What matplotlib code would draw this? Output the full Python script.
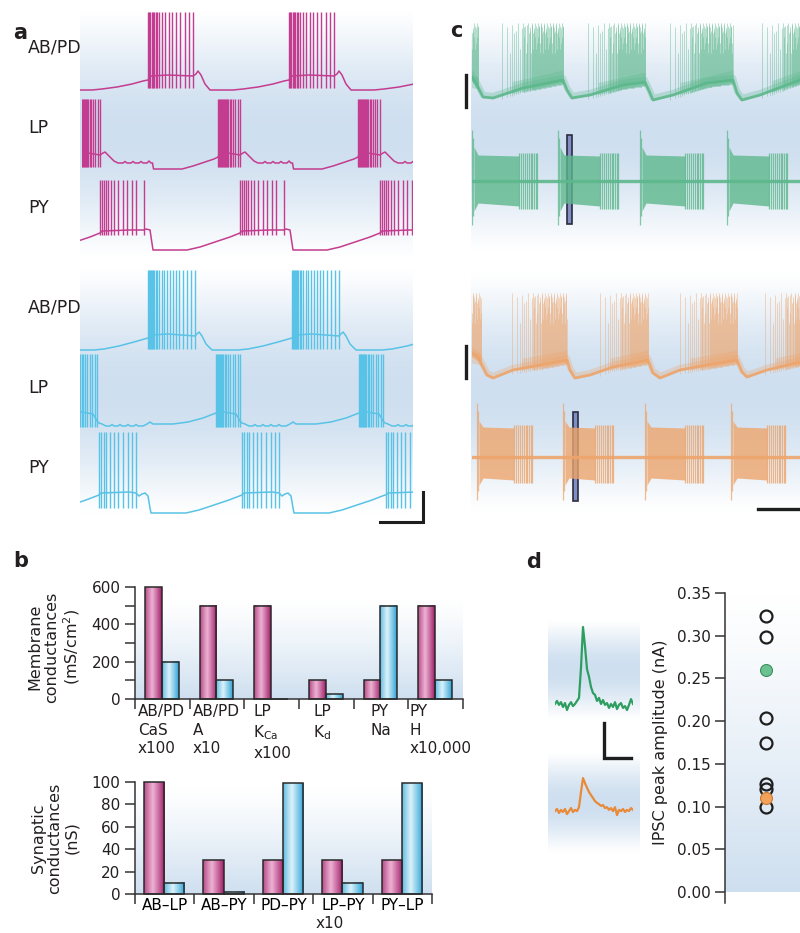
import numpy as np
import matplotlib.pyplot as plt
from matplotlib.patches import Rectangle
from matplotlib.transforms import blended_transform_factory as blend

plt.rcParams['font.family'] = ['DejaVu Sans']
plt.rcParams['text.color'] = '#231f20'

# ---------------- data ----------------
# panel a: model traces, t in s, v in mV; one cycle template repeated at each burst onset
abpd1_onsets = [-0.73, 0.68, 2.09]
abpd1_t = [0, 0.03, 0.2, 0.45, 0.48, 0.5, 0.53, 0.57, 0.62, 0.85, 0.95, 1.1, 1.25, 1.36, 1.41]
abpd1_v = [-50, -46, -45, -46, -44, -41, -45, -54, -60, -60, -59, -57, -54, -51, -50]
abpd1_spk = [0, .012, .024, .036, .048, .06, .075, .09, .11, .14, .17, .205, .24, .28, .32, .365, .41, .45]
abpd1_lo, abpd1_hi = -58, 18

lp1_onsets = [-0.04, 1.36, 2.76]
lp1_t = [0, 0.02, 0.1, 0.22, 0.25, 0.27, 0.31, 0.36, 0.40, 0.45, 0.47, 0.49, 0.53, 0.55, 0.57,
         0.61, 0.63, 0.65, 0.69, 0.71, 0.73, 0.745, 0.755, 1.04, 1.15, 1.27, 1.36, 1.40]
lp1_v = [-54, -50, -50, -52, -50, -49, -53, -58, -60, -60, -58.5, -60, -60, -58.5, -60,
         -60, -58.5, -60, -60, -58, -60, -60, -66, -66, -63, -59, -56, -54]
lp1_spk = [0, .01, .02, .03, .04, .05, .06, .07, .08, .09, .10, .115, .13, .15, .17, .195, .22]
lp1_lo, lp1_hi = -64, 4

py1_onsets = [-1.2, 0.2, 1.6, 3.0]
py1_t = [0, 0.02, 0.3, 0.44, 0.46, 0.50, 0.515, 0.53, 0.87, 1.0, 1.15, 1.3, 1.4]
py1_v = [-48, -46, -45, -45, -44, -45, -55, -65, -65, -62, -57, -52, -48]
py1_spk = [0, .02, .04, .06, .083, .11, .143, .183, .227, .273, .317, .36, .44]
py1_lo, py1_hi = -50, 5

abpd2_onsets = [-0.76, 0.68, 2.12]
abpd2_t = [0, 0.03, 0.2, 0.47, 0.49, 0.51, 0.54, 0.58, 0.64, 0.9, 1.0, 1.15, 1.3, 1.44]
abpd2_v = [-48, -45, -44, -46, -44, -42, -46, -54, -60, -60, -59, -56, -52, -48]
abpd2_spk = [0, .01, .02, .03, .04, .05, .06, .075, .09, .11, .135, .16, .19, .22, .25, .28,
             .31, .35, .39, .43, .47]
abpd2_lo, abpd2_hi = -59, 20

lp2_onsets = [-0.07, 1.36, 2.79]
lp2_t = [0, 0.02, 0.2, 0.24, 0.26, 0.29, 0.33, 0.37, 0.39, 0.41, 0.45, 0.47, 0.49, 0.53, 0.55,
         0.57, 0.61, 0.63, 0.65, 0.70, 0.74, 0.77, 0.80, 1.0, 1.15, 1.3, 1.43]
lp2_v = [-47, -45, -48, -55, -57, -58, -60, -60, -58.5, -60, -60, -58.5, -60, -60, -58.5,
         -60, -60, -58.5, -60, -60, -58, -56, -58, -58, -56, -52, -47]
lp2_spk = [0, .01, .02, .03, .04, .05, .06, .07, .085, .10, .12, .14, .165, .19, .215, .24]
lp2_lo, lp2_hi = -61, 12

py2_onsets = [-1.24, 0.19, 1.62, 3.06]
py2_t = [0, 0.02, 0.3, 0.37, 0.40, 0.43, 0.46, 0.49, 0.51, 0.52, 0.87, 1.0, 1.15, 1.3, 1.43]
py2_v = [-47, -45, -44, -45, -48, -46, -45, -48, -60, -65, -65, -62, -57, -52, -47]
py2_spk = [0, .023, .047, .073, .107, .147, .19, .24, .29, .33, .373]
py2_lo, py2_hi = -60, 16

SCALE_A_T, SCALE_A_V = 0.43, 30

# panel c: recordings, t in s, v in mV (intracellular) or arbitrary units (extracellular)
gi_t = [0, 0.05, 0.11, 0.21, 0.51, 0.91, 0.95, 1.00, 1.18, 1.51, 1.73, 1.78, 1.81, 2.01, 2.35,
        2.61, 2.65, 2.70, 2.88, 3.28]
gi_v = [-40, -48, -60, -61, -51, -43, -53, -61, -58, -48, -45, -56, -63, -58, -46,
        -43, -56, -63, -58, -43]
gi_starts = [-0.55, 0.30, 1.16, 1.98, 2.90]
gi_ends = [0.06, 0.91, 1.73, 2.61, 3.30]
gi_peak = 14

oi_t = [0, 0.06, 0.15, 0.21, 0.41, 0.68, 0.95, 0.98, 1.03, 1.18, 1.41, 1.76, 1.81, 1.88, 2.08,
        2.35, 2.65, 2.70, 2.75, 2.95, 3.28]
oi_v = [-36, -40, -58, -61, -53, -48, -43, -53, -61, -58, -50, -43, -56, -61, -53,
        -48, -43, -55, -60, -53, -45]
oi_starts = [-0.50, 0.40, 1.28, 2.08, 2.93]
oi_ends = [0.09, 0.95, 1.76, 2.65, 3.30]
oi_peak = 24

intra_offs = [0, 0.05, 0.08, 0.1, 0.12, 0.14, 0.16, 0.18, 0.2, 0.215, 0.23, 0.245, 0.26, 0.275,
              0.29, 0.30, 0.31, 0.32, 0.33, 0.34, 0.35, 0.36, 0.37, 0.38, 0.39, 0.40, 0.41,
              0.42, 0.43, 0.44, 0.45, 0.46, 0.47, 0.48, 0.49, 0.50, 0.51, 0.52, 0.53, 0.54,
              0.55, 0.56, 0.57, 0.58, 0.59, 0.60, 0.61, 0.62]
intra_drops = [0, 4, 30, 2, 10, 8, 0, 26, 5, 14, 3, 20]

ge_starts = [0.0, 0.86, 1.68, 2.55]
ge_ends = [0.65, 1.46, 2.31, 3.15]
ge_up, ge_dn = [34, 26, 25], [-30, -22, -25]
ge_onset = (51, -44)

oe_starts = [0.05, 0.91, 1.73, 2.59]
oe_ends = [0.60, 1.41, 2.31, 3.13]
oe_up, oe_dn = [36, 30, 29], [-28, -21, -23]
oe_onset = (54, -43)

extra_sparse = [0, 0.015, 0.03, 0.05, 0.065, 0.08, 0.1, 0.12, 0.14, 0.16, 0.18]
window_green = (0.95, 0.05, -43, 46)
window_orange = (1.01, 0.045, -44, 45)
SCALE_C_T, SCALE_C_V = 0.42, 32

# panel b
mem_labels = ['AB/PD\nCaS\nx100', 'AB/PD\nA\nx10', 'LP\nK$_{\\mathregular{Ca}}$\nx100',
              'LP\nK$_{\\mathregular{d}}$', 'PY\nNa', 'PY\nH\nx10,000']
mem_model1 = [600, 500, 500, 100, 100, 500]
mem_model2 = [200, 100, 0, 25, 500, 100]
syn_labels = ['AB–LP', 'AB–PY', 'PD–PY', 'LP–PY', 'PY–LP']
syn_model1 = [100, 30, 30, 30, 30]
syn_model2 = [10, 2, 99, 10, 99]

# panel d
ipsc_green = [10, 20, 7, 16, 0, 13, -10, 7, 16, 3, 10, 20, 30, 130, 264, 200, 125, 100, 66, 46,
              40, 20, 30, 10, 23, 7, 13, -3, 10, 0, 16, -7, 7, 13, -3, 3, -10, 7, 26, 10]
ipsc_orange = [3, 10, -3, 7, 0, 10, -7, 3, 13, 0, 7, 3, 16, 66, 112, 95, 80, 66, 56, 46,
               36, 30, 26, 20, 23, 13, 16, 7, 13, 3, 16, -10, 7, 3, 10, 0, 7, 3, 13, 7]
IPSC_DT = 2  # ms per sample
SCALE_D_T, SCALE_D_V = 27, 115
amp_open = [0.323, 0.299, 0.204, 0.174, 0.127, 0.121, 0.0997]
amp_green = [0.260]
amp_orange = [0.1095]

# ---------------- styles ----------------
MAG = '#c43c8f'
CYA = '#58c3e6'
GRN = '#5db88c'
ORG = '#eda56c'
DGRN = '#2e9e60'
DORG = '#e98a38'
INK = '#1e1e1e'
BLUE = np.array([0.81, 0.875, 0.94])

W, H = 800, 933
fig = plt.figure(figsize=(8, 9.33), dpi=100)


def box(x0, y0, x1, y1):
    return [x0 / W, 1 - y1 / H, (x1 - x0) / W, (y1 - y0) / H]


def fx(x):
    return x / W


def fy(y):
    return 1 - y / H


def backdrop(x0, y0, x1, y1, mode):
    ax = fig.add_axes(box(x0, y0, x1, y1), zorder=0)
    s = np.linspace(0, 1, 200)
    w = np.sin(np.pi * s) ** 1.2 if mode == 'mid' else s ** 1.2
    img = 1 - w[:, None, None] * (1 - BLUE)[None, None, :]
    ax.imshow(img, aspect='auto', interpolation='bilinear')
    ax.axis('off')


def trace_ax(x0, x1, y_ref, v_ref, vmin, vmax, xs=0.01, ys=1.0):
    y0 = y_ref - (vmax - v_ref) / ys
    y1 = y_ref + (v_ref - vmin) / ys
    ax = fig.add_axes(box(x0, y0, x1, y1), zorder=2)
    ax.set_xlim(0, (x1 - x0) * xs)
    ax.set_ylim(vmin, vmax)
    ax.axis('off')
    return ax


def cycles(ax, onsets, t, v, spk, lo, hi, color):
    tt = np.concatenate([o + np.asarray(t) for o in onsets])
    ax.plot(tt, np.tile(v, len(onsets)), color=color, lw=1.1)
    st = np.concatenate([o + np.asarray(spk) for o in onsets])
    ax.vlines(st, lo, hi, color=color, lw=1.0)


def intra(ax, bt, bv, starts, ends, peak, color):
    bv = np.asarray(bv, float)
    ax.plot(bt, bv, color=color, lw=2.0, alpha=0.9, solid_joinstyle='round')
    ax.plot(bt, bv + 2, color=color, lw=4.5, alpha=0.3)
    offs = np.concatenate([intra_offs, np.asarray(intra_offs[8:]) + 0.005])
    drops = np.resize(intra_drops, len(offs))
    for s, e in zip(starts, ends):
        st = s + offs
        keep = st <= e
        st = st[keep]
        base = np.interp(st, bt, bv)
        tops = peak - drops[keep]
        ax.vlines(st, base - 4, np.maximum(tops, base + 8), color=color, lw=0.6, alpha=0.5)
        # dense small-spike fuzz on top of the baseline during the burst
        seg = [s + 0.1, e]
        bseg = np.interp(seg, bt, bv)
        ax.fill_between(seg, bseg - 2, bseg + 10, color=color, alpha=0.3, lw=0)


def extra(ax, starts, ends, up, dn, onset, color):
    ax.axhline(0, color=color, lw=2.4, alpha=0.9)
    for s, e in zip(starts, ends):
        ax.vlines([s, s + 0.012], [onset[1], onset[1] * 0.8], [onset[0], onset[0] * 0.85],
                  color=color, lw=0.9, alpha=0.75)
        ax.fill_between([s + 0.02, s + 0.06, e - 0.18], up, dn, color=color, alpha=0.8, lw=0)
        st = e - np.asarray(extra_sparse)
        ax.vlines(st, dn[2] - 3, up[2] + 3, color=color, lw=0.9, alpha=0.8)


# ---------------- panel a ----------------
backdrop(80, 10, 413, 258, 'mid')
backdrop(80, 268, 413, 515, 'mid')

cycles(trace_ax(80, 413, 90, -60, -75, 25), abpd1_onsets, abpd1_t, abpd1_v, abpd1_spk,
       abpd1_lo, abpd1_hi, MAG)
cycles(trace_ax(82, 413, 163, -60, -75, 15), lp1_onsets, lp1_t, lp1_v, lp1_spk,
       lp1_lo, lp1_hi, MAG)
cycles(trace_ax(80, 413, 250, -65, -75, 15), py1_onsets, py1_t, py1_v, py1_spk,
       py1_lo, py1_hi, MAG)
cycles(trace_ax(80, 413, 350, -60, -75, 25), abpd2_onsets, abpd2_t, abpd2_v, abpd2_spk,
       abpd2_lo, abpd2_hi, CYA)
cycles(trace_ax(80, 413, 426, -60, -75, 20), lp2_onsets, lp2_t, lp2_v, lp2_spk,
       lp2_lo, lp2_hi, CYA)
ax_py2 = trace_ax(80, 413, 513, -65, -80, 20)
cycles(ax_py2, py2_onsets, py2_t, py2_v, py2_spk, py2_lo, py2_hi, CYA)
sx, sy = 3.43, -74
ax_py2.plot([sx - SCALE_A_T, sx, sx], [sy, sy, sy + SCALE_A_V], color=INK, lw=2.2,
            clip_on=False, solid_joinstyle='miter')

for name, yb in [('AB/PD', 52), ('LP', 133), ('PY', 213), ('AB/PD', 312), ('LP', 393), ('PY', 473)]:
    fig.text(fx(28), fy(yb), name, fontsize=12.5, va='baseline')

# ---------------- panel c ----------------
backdrop(471, 15, 800, 252, 'mid')
backdrop(471, 272, 800, 512, 'mid')

ax_gi = trace_ax(472, 800, 97, -60, -80, 25)
intra(ax_gi, gi_t, gi_v, gi_starts, gi_ends, gi_peak, GRN)
ax_gi.plot([-0.06, -0.06], [-70, -70 + SCALE_C_V], color=INK, lw=2.4, clip_on=False)

ax_ge = trace_ax(472, 800, 181, 0, -55, 60)
t0, tw, v0, v1 = window_green
ax_ge.add_patch(Rectangle((t0, v0), tw, v1 - v0, fc='#7f8ec4', ec='#2c2c3c', lw=1.2, zorder=1))
extra(ax_ge, ge_starts, ge_ends, ge_up, ge_dn, ge_onset, GRN)

ax_oi = trace_ax(472, 800, 377, -60, -80, 30)
intra(ax_oi, oi_t, oi_v, oi_starts, oi_ends, oi_peak, ORG)
ax_oi.plot([-0.06, -0.06], [-61, -61 + SCALE_C_V], color=INK, lw=2.4, clip_on=False)

ax_oe = trace_ax(472, 800, 457, 0, -60, 60)
t0, tw, v0, v1 = window_orange
ax_oe.add_patch(Rectangle((t0, v0), tw, v1 - v0, fc='#7f8ec4', ec='#2c2c3c', lw=1.2, zorder=1))
extra(ax_oe, oe_starts, oe_ends, oe_up, oe_dn, oe_onset, ORG)
ax_oe.plot([3.28 - SCALE_C_T, 3.28], [-52, -52], color=INK, lw=2.4, clip_on=False)

# ---------------- panel b ----------------
def grad_bars(ax, x, h, width, dark, light):
    dark, light = np.array(dark), np.array(light)
    s = np.linspace(0, 1, 64)
    w = np.clip(1 - np.abs(s - 0.42) / 0.58, 0, 1) ** 0.9
    img = (dark + (light - dark) * w[:, None])[None, :, :]
    bars = ax.bar(x, h, width, color='none', edgecolor='#2a2a2a', lw=1.1, zorder=3, clip_on=False)
    for b in bars:
        if b.get_height() <= 0:
            continue
        ax.imshow(img, extent=[b.get_x(), b.get_x() + b.get_width(), 0, b.get_height()],
                  aspect='auto', zorder=2, interpolation='bilinear')


def bar_axes(rect):
    ax = fig.add_axes(rect, zorder=2)
    ax.set_facecolor('none')
    for sp in ['top', 'right']:
        ax.spines[sp].set_visible(False)
    for sp in ['left', 'bottom']:
        ax.spines[sp].set_color('#333333')
        ax.spines[sp].set_linewidth(1.1)
    ax.tick_params(length=7, width=1.1, color='#333333', labelsize=11, labelcolor='#231f20')
    return ax


MAG_D, MAG_L = [0.62, 0.10, 0.40], [0.93, 0.70, 0.83]
CYA_D, CYA_L = [0.16, 0.63, 0.84], [0.86, 0.95, 0.98]

backdrop(135, 600, 463, 699, 'down')
ax_m = bar_axes(box(135, 587, 463, 699))
xm = np.arange(len(mem_labels))
grad_bars(ax_m, xm + 0.335, mem_model1, 0.31, MAG_D, MAG_L)
grad_bars(ax_m, xm + 0.645, mem_model2, 0.31, CYA_D, CYA_L)
ax_m.set_xlim(0, len(mem_labels))
ax_m.set_ylim(0, 600)
ax_m.set_xticks(np.arange(len(mem_labels) + 1))
ax_m.set_xticklabels([])
ax_m.set_yticks([0, 200, 400, 600])
ax_m.set_yticks([100, 300, 500], minor=True)
ax_m.tick_params(which='minor', length=7, width=1.1, color='#333333')
tr = blend(ax_m.transData, fig.transFigure)
for lx, lab in zip([0.05, 1.06, 2.16, 3.26, 4.30, 5.02], mem_labels):
    ax_m.text(lx, fy(704), lab, transform=tr, fontsize=11, va='top', ha='left', linespacing=1.3)
fig.text(fx(55), fy(647), 'Membrane\nconductances\n(mS/cm$^{\\mathregular{2}}$)', rotation=90,
         fontsize=11.5, ha='center', va='center', multialignment='center', linespacing=1.15)

backdrop(135, 787, 432, 894, 'down')
ax_s = bar_axes(box(135, 782, 432, 894))
xs_ = np.arange(len(syn_labels))
grad_bars(ax_s, xs_ + 0.32, syn_model1, 0.34, MAG_D, MAG_L)
grad_bars(ax_s, xs_ + 0.66, syn_model2, 0.34, CYA_D, CYA_L)
ax_s.set_xlim(0, len(syn_labels))
ax_s.set_ylim(0, 100)
ax_s.set_xticks(np.arange(len(syn_labels) + 1))
ax_s.set_xticklabels([])
ax_s.set_xticks(xs_ + 0.5, minor=True)
ax_s.set_xticklabels(syn_labels, minor=True)
ax_s.tick_params(axis='x', which='minor', length=0, pad=3, labelsize=11)
ax_s.set_yticks(np.arange(0, 101, 20))
ax_s.text(3.28, fy(923), 'x10', transform=blend(ax_s.transData, fig.transFigure),
          fontsize=11, ha='center', va='center')
fig.text(fx(55), fy(838), 'Synaptic\nconductances\n(nS)', rotation=90,
         fontsize=11.5, ha='center', va='center', multialignment='center', linespacing=1.15)

# ---------------- panel d ----------------
backdrop(548, 620, 640, 720, 'mid')
backdrop(548, 753, 640, 853, 'mid')
tt = np.arange(len(ipsc_green)) * IPSC_DT
ax_dg = trace_ax(555, 633, 707, 0, -200, 300, xs=1, ys=3.3)
ax_dg.plot(tt, ipsc_green, color=DGRN, lw=1.6)
ax_dg.plot([49, 49, 49 + SCALE_D_T], [-53, -53 - SCALE_D_V, -53 - SCALE_D_V], color=INK, lw=2.4,
           clip_on=False, solid_joinstyle='miter')
ax_do = trace_ax(555, 633, 812, 0, -200, 300, xs=1, ys=3.3)
ax_do.plot(tt, ipsc_orange, color=DORG, lw=1.6)

backdrop(725, 593, 800, 892, 'down')
ax_d = fig.add_axes(box(725, 593, 800, 903), zorder=2)
ax_d.set_facecolor('none')
for sp in ['top', 'right', 'bottom']:
    ax_d.spines[sp].set_visible(False)
ax_d.spines['left'].set_color('#333333')
ax_d.spines['left'].set_linewidth(1.1)
ax_d.plot(np.zeros(len(amp_open)), amp_open, 'o', mfc='none', mec=INK, mew=1.6, ms=8.6)
ax_d.plot(np.zeros(1), amp_green, 'o', mfc='#6cc190', mec='#3d8f63', mew=0.8, ms=8.6)
ax_d.plot(np.zeros(1), amp_orange, 'o', mfc='#f3a25a', mec='#c97a30', mew=0.8, ms=8.6)
ax_d.set_xlim(-0.547, 0.453)
ax_d.set_ylim(-0.0128, 0.35)
ax_d.set_xticks([])
ax_d.set_yticks(np.arange(0, 0.351, 0.05))
ax_d.set_yticklabels(['%.2f' % v for v in np.arange(0, 0.351, 0.05)])
ax_d.tick_params(length=7, width=1.1, color='#333333', labelsize=11, labelcolor='#231f20')
fig.text(fx(660), fy(742), 'IPSC peak amplitude (nA)', rotation=90, fontsize=11.5,
         ha='center', va='center')

# panel letters
for letter, x, y in [('a', 13, 39), ('c', 450, 37), ('b', 13, 567), ('d', 526, 568)]:
    fig.text(fx(x), fy(y), letter, fontsize=15, fontweight='bold', va='baseline')

fig.savefig('out.png', dpi=100)
